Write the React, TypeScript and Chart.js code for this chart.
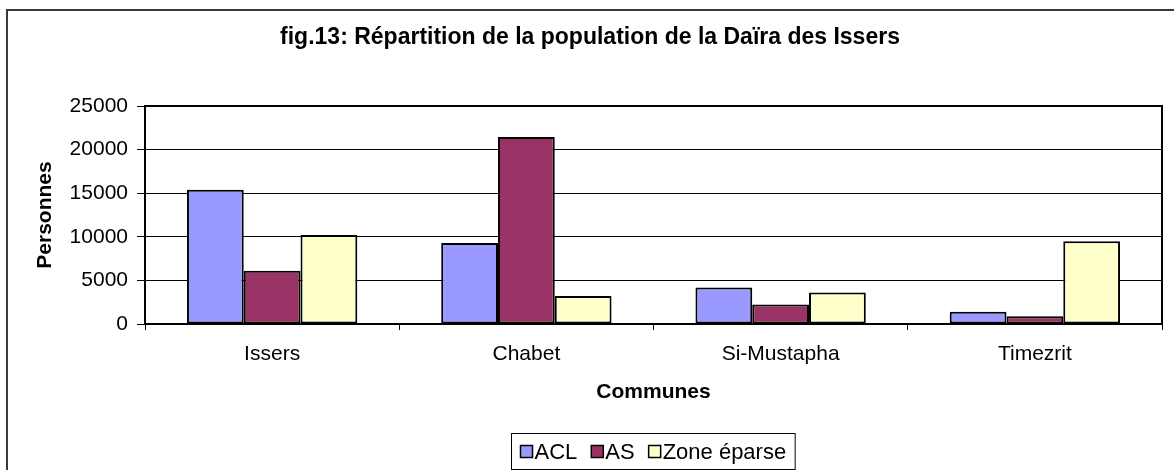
import { useEffect, useRef } from 'react';
import { Chart, registerables } from 'chart.js';
Chart.register(...registerables);

const FONT = "'Liberation Sans', Arial, sans-serif";

const chartTitle = 'fig.13: Répartition de la population de la Daïra des Issers';
const communes = ['Issers', 'Chabet', 'Si-Mustapha', 'Timezrit'];
const seriesNames = ['ACL', 'AS', 'Zone éparse'];
const acl = [15400, 9300, 4200, 1400];
const as = [6100, 21450, 2250, 900];
const zoneEparse = [10200, 3200, 3600, 9500];
const yMin = 0;
const yMax = 25000;
const yStep = 5000;
const seriesColors = ['#9999FF', '#993366', '#FFFFCC'];

const framePlugin = {
  id: 'frameAndLegend',
  beforeDraw(chart: any) {
    const { ctx, width, height } = chart;
    ctx.save();
    ctx.fillStyle = '#ffffff';
    ctx.fillRect(0, 0, width, height);
    ctx.strokeStyle = '#3a3a3a';
    ctx.lineWidth = 2;
    ctx.strokeRect(7, 10, width + 40, height + 40);
    ctx.restore();
  },
  afterDraw(chart: any) {
    const { ctx, chartArea: a } = chart;
    ctx.save();
    ctx.strokeStyle = '#000';
    ctx.lineWidth = 2;
    ctx.beginPath();
    ctx.moveTo(a.left, a.top);
    ctx.lineTo(a.right, a.top);
    ctx.lineTo(a.right, a.bottom);
    ctx.stroke();

    // legend
    const fontSize = 22;
    ctx.font = `${fontSize}px ${FONT}`;
    ctx.textBaseline = 'middle';
    ctx.textAlign = 'left';
    const sq = 12;
    const sqGap = 2;
    const itemGap = 14;
    const pad = 9;
    const ds = chart.data.datasets;
    const widths = ds.map((d: any) => ctx.measureText(d.label).width);
    let content = 0;
    widths.forEach((w: number, i: number) => {
      content += sq + sqGap + w + (i < widths.length - 1 ? itemGap : 0);
    });
    const boxW = content + pad * 2;
    const cx = 653;
    const boxX = Math.round(cx - boxW / 2) + 0.5;
    const boxY = 433.5;
    const boxH = 36;
    ctx.lineWidth = 1;
    ctx.strokeStyle = '#000';
    ctx.strokeRect(boxX, boxY, boxW, boxH);
    const cy = boxY + boxH / 2;
    let x = boxX + pad;
    ds.forEach((d: any, i: number) => {
      ctx.fillStyle = d.backgroundColor;
      ctx.fillRect(x, cy - sq / 2, sq, sq);
      ctx.lineWidth = 1.5;
      ctx.strokeStyle = '#000';
      ctx.strokeRect(x, cy - sq / 2, sq, sq);
      ctx.fillStyle = '#000';
      ctx.fillText(d.label, x + sq + sqGap, cy + 1);
      x += sq + sqGap + widths[i] + itemGap;
    });
    ctx.restore();
  },
};

export default function App() {
  const ref = useRef<HTMLCanvasElement | null>(null);

  useEffect(() => {
    document.body.style.margin = '0';
    if (!ref.current) return;
    Chart.defaults.font.family = FONT;
    Chart.defaults.color = '#000';
    const seriesData = [acl, as, zoneEparse];
    const chart = new Chart(ref.current, {
      type: 'bar',
      data: {
        labels: communes,
        datasets: seriesNames.map((name, i) => ({
          label: name,
          data: seriesData[i],
          backgroundColor: seriesColors[i],
          borderColor: '#000',
          borderWidth: 2,
          borderSkipped: false,
          categoryPercentage: 0.67,
          barPercentage: 1.0,
        })),
      },
      options: {
        responsive: false,
        animation: false,
        events: [],
        layout: { padding: { left: 18, right: 12, top: 0, bottom: 56 } },
        plugins: {
          legend: { display: false },
          tooltip: { enabled: false },
          title: {
            display: true,
            text: chartTitle,
            color: '#000',
            font: { size: 23, weight: 'bold', family: FONT },
            padding: { top: 24.2, bottom: 54.2 },
          },
        },
        scales: {
          x: {
            grid: {
              display: true,
              drawOnChartArea: false,
              drawTicks: true,
              tickLength: 6,
              color: '#000',
              offset: true,
            },
            border: { display: true, color: '#000', width: 2 },
            ticks: {
              font: { size: 21, family: FONT },
              color: '#000',
              padding: 11.4,
              maxRotation: 0,
              autoSkip: false,
            },
            title: {
              display: true,
              text: 'Communes',
              color: '#000',
              font: { size: 21, weight: 'bold', family: FONT },
              padding: { top: 0, bottom: 9.4 },
            },
            afterFit: (s: any) => {
              s.height = 90;
            },
          },
          y: {
            min: yMin,
            max: yMax,
            ticks: {
              stepSize: yStep,
              font: { size: 21, family: FONT },
              color: '#000',
              padding: 9,
              callback: (v: any) => String(v),
            },
            grid: { color: '#000', lineWidth: 1, tickLength: 8, drawTicks: true },
            border: { display: true, color: '#000', width: 2 },
            title: {
              display: true,
              text: 'Personnes',
              color: '#000',
              font: { size: 21, weight: 'bold', family: FONT },
              padding: { top: 14.4, bottom: 0 },
            },
            afterFit: (s: any) => {
              s.width = 127;
            },
          },
        },
      } as any,
      plugins: [framePlugin],
    });
    return () => chart.destroy();
  }, []);

  return (
    <div style={{ position: 'absolute', left: 0, top: 0, width: 1174, height: 470 }}>
      <canvas ref={ref} width={1174} height={470} style={{ display: 'block' }} />
    </div>
  );
}
